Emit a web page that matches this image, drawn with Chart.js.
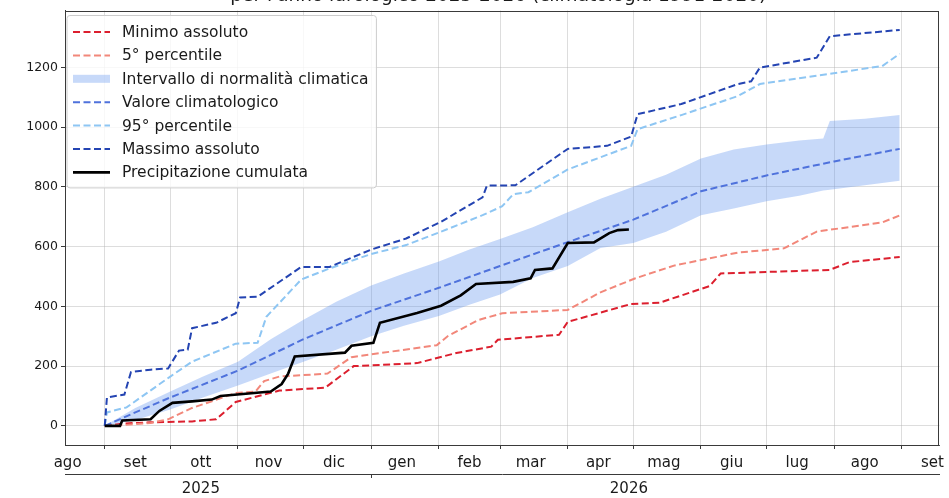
<!DOCTYPE html>
<html>
<head>
<meta charset="utf-8">
<script src="https://cdn.jsdelivr.net/npm/chart.js@4.4.1/dist/chart.umd.min.js"></script>
<style>
  html, body { margin: 0; padding: 0; background: #ffffff; }
  #wrap { width: 949px; height: 498px; }
</style>
</head>
<body>
<div id="wrap"><canvas id="chart" width="949" height="498"></canvas></div>
<script>
// Day index: 0 = 1 settembre 2025, 364 = 31 agosto 2026
const monthStarts = [0, 30, 61, 91, 122, 153, 181, 212, 242, 273, 303, 334, 365];
const monthMidDays = [-17, 14, 44, 75, 105, 136, 167, 195, 226, 256, 287, 317, 348, 379];
const monthLabels = ['ago', 'set', 'ott', 'nov', 'dic', 'gen', 'feb', 'mar', 'apr', 'mag', 'giu', 'lug', 'ago', 'set'];
const yearBoundary = 122;
const yearLabelDays = [44, 240];
const yearLabels = ['2025', '2026'];
const yTickValues = [0, 200, 400, 600, 800, 1000, 1200];

// Precipitazione cumulata (mm)
const rainDays = [0, 7, 8, 21, 25, 31, 40, 49, 53, 76, 81, 84, 87, 110, 113, 123, 126, 143, 154, 163, 170, 187, 195, 197, 205, 212, 224, 231, 235, 240];
const rainVals = [0, 0, 18, 22, 50, 77, 82, 88, 100, 115, 140, 175, 232, 245, 268, 278, 345, 378, 402, 437, 475, 482, 494, 522, 527, 612, 614, 645, 655, 657];

// Massimo assoluto
const maxDays = [0, 1, 9, 12, 21, 29, 34, 38, 40, 51, 60, 62, 70, 90, 103, 122, 138, 154, 173, 175, 188, 212, 230, 241, 244, 264, 290, 296, 300, 326, 332, 364];
const maxVals = [0, 95, 105, 180, 188, 192, 252, 255, 327, 345, 377, 430, 432, 532, 532, 590, 627, 683, 765, 804, 805, 927, 937, 968, 1043, 1077, 1144, 1153, 1199, 1232, 1304, 1325];

// 95° percentile
const p95Days = [0, 1, 10, 30, 40, 60, 70, 74, 90, 103, 122, 138, 154, 173, 182, 187, 194, 212, 241, 244, 264, 290, 300, 356, 364];
const p95Vals = [0, 45, 62, 165, 215, 275, 278, 365, 490, 527, 575, 605, 650, 705, 735, 775, 782, 858, 937, 993, 1040, 1104, 1144, 1204, 1245];

// Valore climatologico
const climDays = [0, 14, 30, 61, 91, 122, 153, 181, 212, 242, 273, 303, 334, 364];
const climVals = [0, 45, 95, 185, 290, 385, 462, 535, 615, 690, 785, 838, 885, 927];

// Intervallo di normalità climatica (limite inferiore / superiore)
const bandDays = [0, 14, 30, 45, 61, 76, 91, 106, 122, 137, 153, 167, 181, 196, 212, 227, 242, 257, 273, 288, 303, 318, 329, 332, 348, 364];
const bandLow = [0, 20, 55, 95, 135, 175, 215, 255, 300, 335, 368, 405, 440, 495, 535, 595, 612, 650, 705, 727, 752, 770, 788, 790, 805, 820];
const bandHigh = [0, 60, 115, 165, 215, 290, 355, 415, 470, 510, 550, 590, 625, 665, 715, 760, 800, 840, 895, 925, 942, 955, 962, 1020, 1028, 1040];

// 5° percentile
const p5Days = [0, 9, 21, 29, 40, 60, 69, 73, 80, 102, 113, 152, 157, 171, 182, 212, 227, 243, 261, 290, 311, 326, 356, 364];
const p5Vals = [0, 3, 10, 22, 60, 110, 115, 150, 165, 175, 230, 270, 300, 354, 377, 388, 447, 494, 537, 580, 594, 650, 681, 704];

// Minimo assoluto
const minDays = [0, 9, 21, 40, 51, 60, 80, 101, 114, 143, 161, 177, 180, 208, 212, 241, 254, 277, 282, 332, 341, 364];
const minVals = [0, 8, 12, 15, 22, 80, 118, 128, 200, 210, 244, 265, 288, 305, 348, 408, 412, 468, 510, 522, 548, 565];

const legendOrder = ['Minimo assoluto', '5° percentile', 'Intervallo di normalità climatica',
  'Valore climatologico', '95° percentile', 'Massimo assoluto', 'Precipitazione cumulata'];

const titleText = "per l'anno idrologico 2025-2026 (climatologia 1991-2020)";

const FONT = '"DejaVu Sans", "Liberation Sans", sans-serif';
const TEXT = '#1a1a1a';
const AXIS = '#3a3a3a';
const GRID = 'rgba(176,176,176,0.55)';
const DASH = [7, 3.5];
const X_MIN = -18.2, X_MAX = 382.2;

const pts = (days, vals) => days.map((d, i) => ({ x: d, y: vals[i] }));

const dashed = (label, days, vals, color) => ({
  label, data: pts(days, vals), borderColor: color, backgroundColor: color,
  borderWidth: 2, borderDash: DASH, fill: false, legendKind: 'line'
});

// Datasets listed top-most first (Chart.js paints the first one last)
const datasets = [
  { label: 'Precipitazione cumulata', data: pts(rainDays, rainVals), borderColor: '#000000',
    backgroundColor: '#000000', borderWidth: 2.6, fill: false, legendKind: 'line' },
  dashed('Massimo assoluto', maxDays, maxVals, '#2444b2'),
  dashed('95° percentile', p95Days, p95Vals, '#8ec6f3'),
  dashed('Valore climatologico', climDays, climVals, '#4f72dc'),
  { label: 'Intervallo di normalità climatica', data: pts(bandDays, bandHigh),
    borderColor: 'rgba(0,0,0,0)', borderWidth: 0, backgroundColor: 'rgba(100,149,237,0.36)',
    fill: '+1', legendKind: 'box' },
  { label: 'bandLow', data: pts(bandDays, bandLow), borderColor: 'rgba(0,0,0,0)',
    borderWidth: 0, fill: false },
  dashed('5° percentile', p5Days, p5Vals, '#f2877a'),
  dashed('Minimo assoluto', minDays, minVals, '#dc1f2e')
];

const frame = {
  id: 'frame',
  afterDatasetsDraw(chart) {
    const { ctx, chartArea: a } = chart;
    ctx.save();
    ctx.strokeStyle = AXIS;
    ctx.lineWidth = 1;
    ctx.strokeRect(Math.round(a.left) + 0.5, Math.round(a.top) + 0.5,
      Math.round(a.right - a.left) - 1, Math.round(a.bottom - a.top) - 1);
    ctx.restore();
  }
};

const legendBox = {
  id: 'legendBox',
  afterDraw(chart) {
    const { ctx, chartArea: a } = chart;
    const items = legendOrder.map(l => chart.data.datasets.find(d => d.label === l));
    ctx.save();
    ctx.font = '15.5px ' + FONT;
    const rowH = 23.4;
    const x0 = a.left + 2, y0 = a.top + 5;
    const textX = x0 + 55;
    const w = Math.max(...items.map(it => ctx.measureText(it.label).width)) + 63;
    const h = rowH * (items.length - 1) + 32;
    const r = 3;
    ctx.beginPath();
    ctx.moveTo(x0 + r, y0);
    ctx.lineTo(x0 + w - r, y0); ctx.arcTo(x0 + w, y0, x0 + w, y0 + r, r);
    ctx.lineTo(x0 + w, y0 + h - r); ctx.arcTo(x0 + w, y0 + h, x0 + w - r, y0 + h, r);
    ctx.lineTo(x0 + r, y0 + h); ctx.arcTo(x0, y0 + h, x0, y0 + h - r, r);
    ctx.lineTo(x0, y0 + r); ctx.arcTo(x0, y0, x0 + r, y0, r);
    ctx.closePath();
    ctx.fillStyle = 'rgba(255,255,255,0.8)';
    ctx.fill();
    ctx.strokeStyle = '#cccccc';
    ctx.lineWidth = 1;
    ctx.stroke();
    items.forEach((it, i) => {
      const cy = y0 + 16.5 + i * rowH;
      if (it.legendKind === 'box') {
        ctx.fillStyle = it.backgroundColor;
        ctx.fillRect(x0 + 6, cy - 4, 37, 8);
      } else {
        ctx.strokeStyle = it.borderColor;
        ctx.lineWidth = it.borderWidth;
        ctx.setLineDash(it.borderDash || []);
        ctx.beginPath();
        ctx.moveTo(x0 + 6, cy); ctx.lineTo(x0 + 43, cy);
        ctx.stroke();
        ctx.setLineDash([]);
      }
      ctx.fillStyle = TEXT;
      ctx.textBaseline = 'middle';
      ctx.textAlign = 'left';
      ctx.fillText(it.label, textX, cy + 1);
    });
    ctx.restore();
  }
};

const titlePlugin = {
  id: 'topTitle',
  afterDraw(chart) {
    const { ctx, chartArea: a } = chart;
    ctx.save();
    ctx.font = '18.5px ' + FONT;
    ctx.fillStyle = TEXT;
    ctx.textAlign = 'center';
    ctx.textBaseline = 'alphabetic';
    ctx.fillText(titleText, (a.left + a.right) / 2 - 4, 1);
    ctx.restore();
  }
};

new Chart(document.getElementById('chart'), {
  type: 'line',
  data: { datasets },
  options: {
    responsive: false,
    animation: false,
    devicePixelRatio: 1,
    layout: { padding: { top: 10, right: 6, bottom: 0, left: 0 } },
    elements: { point: { radius: 0 }, line: { tension: 0 } },
    plugins: { legend: { display: false }, tooltip: { enabled: false }, filler: { propagate: false } },
    scales: {
      x: {
        type: 'linear', position: 'bottom', weight: 0, min: X_MIN, max: X_MAX,
        afterBuildTicks: s => { s.ticks = monthStarts.map(v => ({ value: v })); },
        afterFit: s => { s.height = 4; },
        grid: { color: GRID, lineWidth: 0.8, drawTicks: true, tickLength: 4, tickColor: AXIS, tickWidth: 1 },
        border: { display: true, color: AXIS, width: 1 },
        ticks: { display: false }
      },
      xm: {
        type: 'linear', position: 'bottom', weight: 1, min: X_MIN, max: X_MAX,
        afterBuildTicks: s => { s.ticks = monthMidDays.map(v => ({ value: v })); },
        afterFit: s => { s.height = 25; },
        grid: { display: false, drawTicks: false },
        border: { display: false },
        ticks: {
          autoSkip: false, maxRotation: 0, minRotation: 0, padding: 5, color: TEXT,
          font: { family: FONT, size: 15 },
          callback: (v, i) => monthLabels[i]
        }
      },
      xy: {
        type: 'linear', position: 'bottom', weight: 2, min: X_MIN, max: X_MAX,
        afterBuildTicks: s => {
          s.ticks = [yearLabelDays[0], yearBoundary, yearLabelDays[1]].map(v => ({ value: v }));
        },
        afterFit: s => { s.height = 24; },
        grid: {
          drawOnChartArea: false, drawTicks: true, tickLength: 4, tickWidth: 1,
          tickColor: c => (c.tick && c.tick.value === yearBoundary) ? AXIS : 'rgba(0,0,0,0)'
        },
        border: { display: true, color: AXIS, width: 1 },
        ticks: {
          autoSkip: false, maxRotation: 0, minRotation: 0, padding: 2, color: TEXT,
          font: { family: FONT, size: 15 },
          callback: v => { const k = yearLabelDays.indexOf(v); return k >= 0 ? yearLabels[k] : ''; }
        }
      },
      y: {
        type: 'linear', position: 'left', min: -64, max: 1390,
        afterBuildTicks: s => { s.ticks = yTickValues.map(v => ({ value: v })); },
        afterFit: s => { s.width = 65; },
        grid: { color: GRID, lineWidth: 0.8, drawTicks: true, tickLength: 4, tickColor: AXIS, tickWidth: 1 },
        border: { display: true, color: AXIS, width: 1 },
        ticks: { padding: 3, color: TEXT, font: { family: FONT, size: 12.5 }, callback: v => String(v) }
      }
    }
  },
  plugins: [frame, legendBox, titlePlugin]
});
</script>
</body>
</html>
